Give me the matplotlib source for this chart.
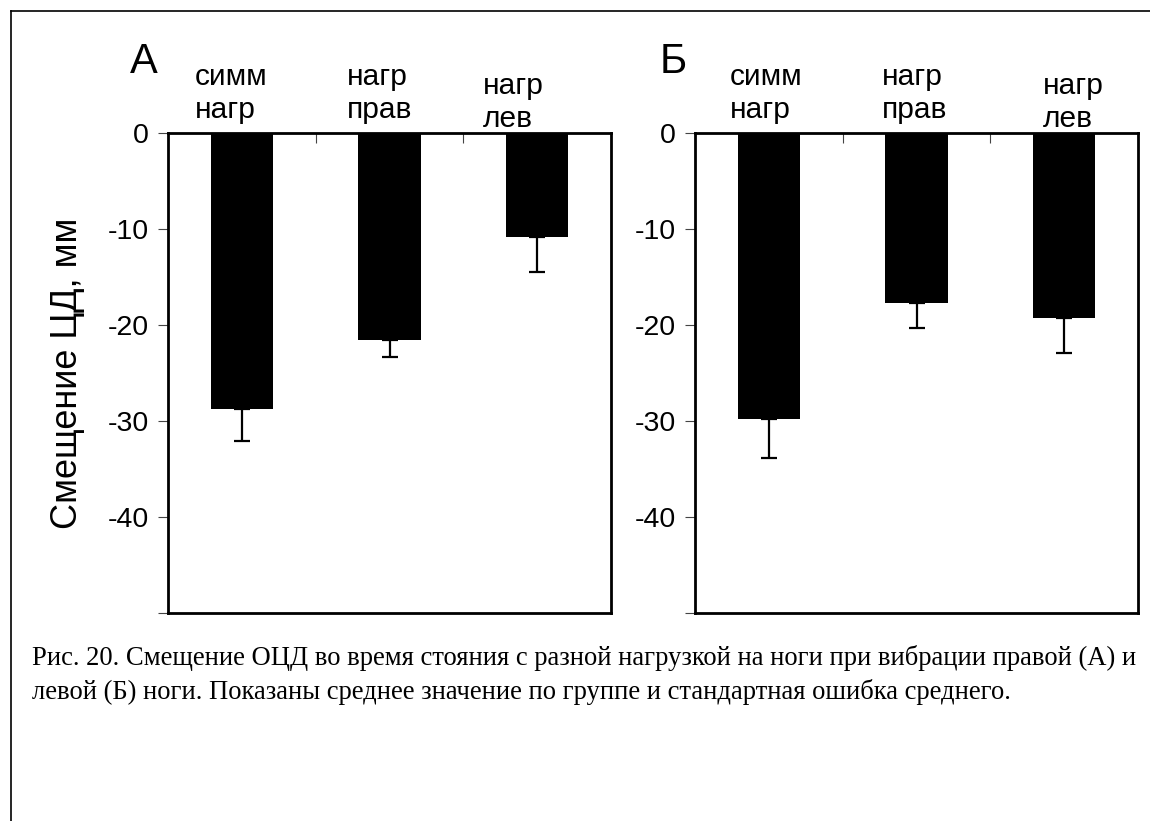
import numpy as np
import matplotlib.pyplot as plt
from matplotlib.lines import Line2D

# Данные (мм)
categories = ['симм\nнагр', 'нагр\nправ', 'нагр\nлев']
mean_a = [-28.8, -21.6, -10.8]
sem_a = [3.3, 1.7, 3.65]
mean_b = [-29.8, -17.7, -19.3]
sem_b = [4.1, 2.6, 3.6]

yticks = [0, -10, -20, -30, -40, -50]
ytick_labels = ['0', '-10', '-20', '-30', '-40', '']
caption = ('Рис. 20. Смещение ОЦД во время стояния с разной нагрузкой на ноги при вибрации правой (А) и\n'
           'левой (Б) ноги. Показаны среднее значение по группе и стандартная ошибка среднего.')

plt.rcParams['font.family'] = ['Liberation Sans', 'DejaVu Sans']

W, H = 1150, 821
fig = plt.figure(figsize=(W / 100, H / 100), dpi=100)

# внешняя рамка (обрезана справа и снизу)
fig.add_artist(Line2D([10.5 / W, 10.5 / W], [0, 1 - 11.5 / H], color='black', lw=1.2))
fig.add_artist(Line2D([10.5 / W, 1], [1 - 11.5 / H, 1 - 11.5 / H], color='black', lw=1.2))


def panel(left, means, sems, letter, letter_dx, label_dx, label_dy):
    ax = fig.add_axes([left / W, 1 - 613 / H, 443 / W, 480 / H])
    x = np.arange(len(means))
    ax.bar(x, means, width=0.42, color='black', zorder=3)
    # только нижняя половина планки погрешности видна
    ax.errorbar(x, means, yerr=[sems, np.zeros(len(sems))], fmt='none',
                ecolor='black', elinewidth=1.6, capsize=5.5, capthick=1.6, zorder=2)
    ax.set_xlim(-0.5, len(means) - 0.5)
    ax.set_ylim(-50, 0)
    for s in ax.spines.values():
        s.set_linewidth(2.0)
        s.set_zorder(4)
    ax.set_yticks(yticks)
    ax.set_yticklabels(ytick_labels, fontsize=20.5)
    ax.tick_params(axis='y', direction='out', length=7, width=0.8, pad=7, color='#444444')
    ax.xaxis.tick_top()
    ax.set_xticks([0.5, 1.5])
    ax.set_xticklabels([])
    ax.tick_params(axis='x', direction='in', length=7, width=0.8, color='#444444')
    tr = ax.get_xaxis_transform()
    for i, lab in enumerate(categories):
        ax.text(i + label_dx[i], 1.031 - label_dy[i], lab, transform=tr, fontsize=21.5,
                ha='left', va='baseline', linespacing=1.25)
    ax.text(letter_dx, 1.125, letter, transform=ax.transAxes, fontsize=30,
            ha='left', va='baseline')
    return ax


ax_a = panel(168, mean_a, sem_a, 'А', -0.086, [-0.317, -0.288, -0.367], [0, 0, 0.019])
ax_a.set_ylabel('Смещение ЦД, мм', fontsize=26)
ax_a.yaxis.set_label_coords(-0.187, 0.5)
ax_b = panel(695, mean_b, sem_b, 'Б', -0.079, [-0.263, -0.234, -0.144], [0, 0, 0.019])

fig.text(32 / W, 1 - 699 / H, caption, fontsize=19.2, family=['Liberation Serif', 'DejaVu Serif'],
         ha='left', va='baseline', linespacing=1.4)

fig.savefig('out.png', dpi=100)
